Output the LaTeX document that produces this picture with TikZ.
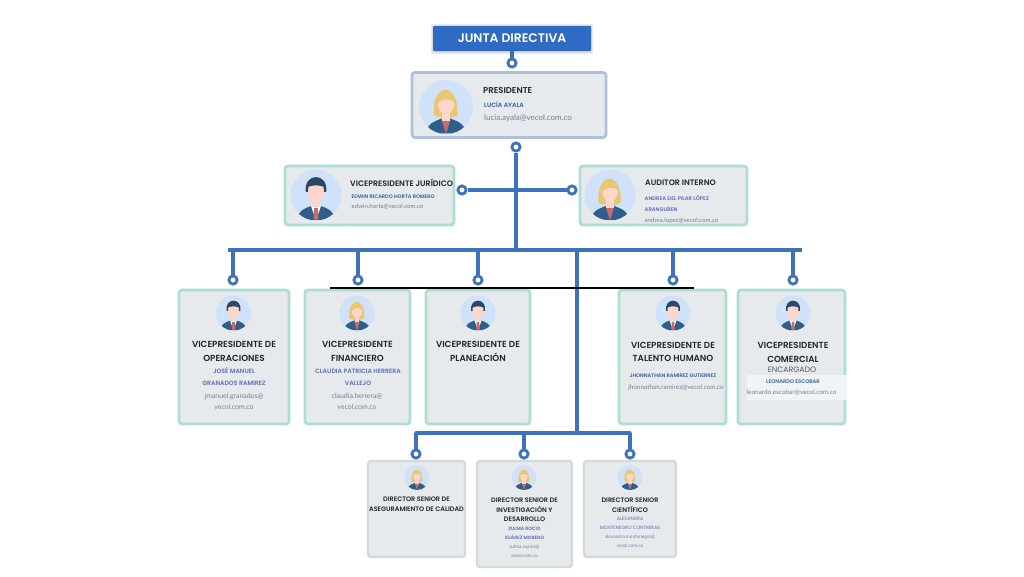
\documentclass[tikz,border=0pt]{standalone}
\usepackage{fontspec}
\setmainfont{Poppins}[BoldFont={Poppins SemiBold}]
\newfontfamily\namefont{Poppins}[BoldFont={Poppins SemiBold}]
\newfontfamily\mailfont{Lato}
\definecolor{blueline}{HTML}{3F72BC}
\definecolor{juntablue}{HTML}{2F6BC4}
\definecolor{cardfill}{HTML}{E6EAED}
\definecolor{tealedge}{HTML}{ADDDD3}
\definecolor{presedge}{HTML}{AEC0DE}
\definecolor{greyedge}{HTML}{D6D9DB}
\definecolor{namedark}{HTML}{34609C}
\definecolor{nameviolet}{HTML}{5F6DB8}
\definecolor{mailgrey}{HTML}{6F8296}
\definecolor{titleink}{HTML}{22252A}
\definecolor{avbg}{HTML}{CFE2F9}
\definecolor{avcoat}{HTML}{2F5F88}
\definecolor{avskin}{HTML}{FBD6CB}
\definecolor{avhairm}{HTML}{2B4766}
\definecolor{avhairf}{HTML}{EAC673}
\definecolor{avtie}{HTML}{C96A6E}
\newcommand{\avatarbody}[1]{%
  \fill[avbg] (0,0) circle (1);
  \begin{scope}
    \clip (0,0) circle (1);
    #1
  \end{scope}}
\newcommand{\manavatar}[3]{%
  \begin{scope}[shift={(#1,#2)},scale=#3]
  \avatarbody{%
    \fill[avcoat] (-0.75,0.98) .. controls (-0.72,0.62) and (-0.45,0.52) .. (-0.15,0.42) -- (0.15,0.42) .. controls (0.45,0.52) and (0.72,0.62) .. (0.75,0.98) -- cycle;
    \fill[white] (-0.2,0.42) -- (0.2,0.42) -- (0,1) -- cycle;
    \fill[avtie] (-0.07,0.5) -- (0.07,0.5) -- (0.1,0.9) -- (0,1) -- (-0.1,0.9) -- cycle;
    \fill[avskin] (-0.15,0.1) rectangle (0.15,0.48);
    \fill[avskin] (0,-0.15) ellipse (0.35 and 0.44);
    \fill[avhairm] (-0.4,-0.12) .. controls (-0.5,-0.9) and (0.5,-0.9) .. (0.4,-0.12) -- (0.31,-0.12) -- (0.3,-0.32) .. controls (0.1,-0.4) and (-0.1,-0.4) .. (-0.3,-0.32) -- (-0.31,-0.12) -- cycle;
  }
  \end{scope}}
\newcommand{\womanavatar}[3]{%
  \begin{scope}[shift={(#1,#2)},scale=#3]
  \avatarbody{%
    \fill[avhairf] (-0.45,0.3) .. controls (-0.55,-0.95) and (0.5,-0.95) .. (0.42,0.3) .. controls (0.3,0.42) and (-0.3,0.42) .. (-0.45,0.3) -- cycle;
    \fill[avcoat] (-0.75,0.98) .. controls (-0.72,0.62) and (-0.45,0.55) .. (-0.15,0.42) -- (0.15,0.42) .. controls (0.45,0.55) and (0.72,0.62) .. (0.75,0.98) -- cycle;
    \fill[avtie] (-0.17,0.45) -- (0.17,0.45) -- (0,1) -- cycle;
    \fill[avskin] (-0.14,0.1) rectangle (0.14,0.5);
    \fill[avskin] (0,-0.12) ellipse (0.3 and 0.38);
    \fill[avhairf] (-0.3,-0.12) .. controls (-0.25,-0.6) and (0.15,-0.65) .. (0.32,-0.2) .. controls (0.1,-0.3) and (-0.1,-0.35) .. (-0.3,-0.12) -- cycle;
  }
  \end{scope}}
\tikzset{
  x=1pt,y=-1pt,
  card/.style={draw,fill=cardfill,rounded corners=3pt,line width=2.8pt,inner sep=0pt},
  tealcard/.style={card,draw=tealedge},
  prescard/.style={card,draw=presedge},
  greycard/.style={card,draw=greyedge,line width=2.4pt},
  juntabox/.style={fill=juntablue,rounded corners=1pt,minimum width=158pt,minimum height=25pt,inner sep=0pt,text=white,font=\fontsize{12.4}{14}\selectfont\bfseries},
  ring/.style={circle,draw=blueline,fill=white,line width=2.8pt,minimum size=8.2pt,inner sep=0pt},
  link/.style={draw=blueline,line width=3.2pt},
  blackrule/.style={draw=black,line width=2.2pt},
  ttl/.style={inner sep=0pt,align=center,text=titleink,font=\fontsize{8.8}{13.4}\selectfont\bfseries},
  ttlleft/.style={ttl,anchor=west,font=\fontsize{7.9}{13}\selectfont\bfseries},
  sub/.style={inner sep=0pt,align=center,text=titleink!75,font=\fontsize{7.8}{12}\selectfont},
  dirttl/.style={ttl,font=\fontsize{6.5}{9.6}\selectfont\bfseries},
  nm/.style={inner sep=0pt,align=center,text=nameviolet,font=\namefont\fontsize{6.2}{12}\selectfont\bfseries},
  nmleft/.style={nm,anchor=west,text=namedark},
  nmsmall/.style={nm,font=\namefont\fontsize{4.7}{9}\selectfont\bfseries},
  mail/.style={inner sep=0pt,align=center,text=mailgrey,font=\mailfont\fontsize{6.9}{11}\selectfont},
  mailleft/.style={mail,anchor=west},
  mailsmall/.style={mail,font=\mailfont\fontsize{4.7}{9}\selectfont},
}
\begin{document}
\begin{tikzpicture}
\useasboundingbox (0,0) rectangle (1024,576);
\fill[white] (0,0) rectangle (1024,576);

% cards
\fill[black!8,rounded corners=2pt] (431,24) rectangle (593,54);
\fill[black!14,rounded corners=1pt] (432,25) rectangle (592,52.5);
\node[juntabox] (junta) at (512,38.5) {JUNTA DIRECTIVA};
\node[prescard,minimum width=194pt,minimum height=65pt] (pres) at (509,105) {};
\node[tealcard,minimum width=169pt,minimum height=59pt] (vpjur) at (369.5,195.5) {};
\node[tealcard,minimum width=167pt,minimum height=59pt] (audit) at (663.5,195.5) {};
\node[tealcard,minimum width=110pt,minimum height=134pt] (vpop) at (234,357) {};
\node[tealcard,minimum width=105pt,minimum height=134pt] (vpfin) at (357.5,357) {};
\node[tealcard,minimum width=104pt,minimum height=134pt] (vppla) at (478,357) {};
\node[tealcard,minimum width=107pt,minimum height=134pt] (vptal) at (672.5,357) {};
\node[tealcard,minimum width=107pt,minimum height=134pt] (vpcom) at (791.5,357) {};
\node[greycard,minimum width=97pt,minimum height=96pt] (dircal) at (416.5,509) {};
\node[greycard,minimum width=95pt,minimum height=106pt] (dirinv) at (524.5,514) {};
\node[greycard,minimum width=92pt,minimum height=96pt] (dircie) at (630,509) {};
\fill[white!45!cardfill] (747,375) rectangle (847,400);

% connector points
\coordinate (jTop) at (228,250);
\coordinate (jEnd) at (802,250);
\coordinate (jPres) at (516,250);
\coordinate (jDir) at (577,250);
\coordinate (jDirB) at (577,433);
\coordinate (jA) at (416,433);
\coordinate (jB) at (524,433);
\coordinate (jC) at (630,433);
\coordinate (d1) at (233,250);
\coordinate (d2) at (358,250);
\coordinate (d3) at (478,250);
\coordinate (d4) at (673,250);
\coordinate (d5) at (793,250);
\coordinate (ruleL) at (330,288);
\coordinate (ruleR) at (694,288);

% rings
\node[ring] (rJ) at (512,63) {};
\node[ring] (rP) at (516,147) {};
\node[ring] (rL) at (462,190) {};
\node[ring] (rR) at (572,190) {};
\node[ring] (r1) at (233,280) {};
\node[ring] (r2) at (358,280) {};
\node[ring] (r3) at (478,280) {};
\node[ring] (r4) at (673,280) {};
\node[ring] (r5) at (793,280) {};
\node[ring] (rA) at (416,454) {};
\node[ring] (rB) at (524,454) {};
\node[ring] (rC) at (630,454) {};

% connectors
\path[link] (junta.south) -- (rJ);
\path[link] (rP) -- (jPres);
\path[link] (rL) -- (rR);
\path[link] (jTop) -- (jEnd);
\foreach \a/\b in {d1/r1,d2/r2,d3/r3,d4/r4,d5/r5,jA/rA,jB/rB,jC/rC}{\path[link] (\a) -- (\b);}
\path[link] (jDir) -- (jDirB);
\path[link,line cap=round] (jA) -- (jC);
\path[blackrule] (ruleL) -- (ruleR);

% avatars
\womanavatar{446}{107}{27}
\manavatar{316}{195}{25.5}
\womanavatar{610}{195}{25.5}
\manavatar{233.5}{313}{17.5}
\womanavatar{357}{313}{17.5}
\manavatar{478}{313}{17.5}
\manavatar{673}{313}{17.5}
\manavatar{793}{313}{17.5}
\womanavatar{417}{477.5}{12.5}
\womanavatar{524}{477.5}{12.5}
\womanavatar{630}{477.5}{12.5}

% texts
\node[ttlleft,font=\fontsize{8.5}{13}\selectfont\bfseries] (tPres) at (483,91) {PRESIDENTE};
\node[nmleft] (nPres) at (484,105) {LUCÍA AYALA};
\node[mailleft,font=\mailfont\fontsize{8}{11}\selectfont] (mPres) at (484,118) {lucia.ayala@vecol.com.co};

\node[ttlleft] (tJur) at (350,183) {VICEPRESIDENTE JURÍDICO};
\node[nmleft,font=\namefont\fontsize{5.1}{9}\selectfont\bfseries] (nJur) at (351.5,196.5) {EDWIN RICARDO HORTA ROMERO};
\node[mailleft,font=\mailfont\fontsize{6.1}{9}\selectfont] (mJur) at (351.5,206.5) {edwin.horta@vecol.com.co};

\node[ttlleft] (tAud) at (645,183) {AUDITOR INTERNO};
\node[nm,anchor=west,align=left,font=\namefont\fontsize{5.3}{10.6}\selectfont\bfseries] (nAud) at (644.5,203.5) {ANDREA DEL PILAR LÓPEZ\\ARANGUREN};
\node[mailleft,font=\mailfont\fontsize{6.1}{9}\selectfont] (mAud) at (644.5,220.5) {andrea.lopez@vecol.com.co};

\node[ttl] (tOp) at (234,351.5) {VICEPRESIDENTE DE\\OPERACIONES};
\node[nm] (nOp) at (234,377) {JOSÉ MANUEL\\GRANADOS RAMIREZ};
\node[mail] (mOp) at (234,401.5) {jmanuel.granados@\\vecol.com.co};

\node[ttl] (tFin) at (357.5,351.5) {VICEPRESIDENTE\\FINANCIERO};
\node[nm] (nFin) at (358,377) {CLAUDIA PATRICIA HERRERA\\VALLEJO};
\node[mail] (mFin) at (357,401.5) {claudia.herrera@\\vecol.com.co};

\node[ttl] (tPla) at (478,351.5) {VICEPRESIDENTE DE\\PLANEACIÓN};

\node[ttl] (tTal) at (673,352) {VICEPRESIDENTE DE\\TALENTO HUMANO};
\node[nm,text=namedark,font=\namefont\fontsize{5.1}{9}\selectfont\bfseries] (nTal) at (673,375.5) {JHONNATHAN RAMIREZ GUTIERREZ};
\node[mail,font=\mailfont\fontsize{6.4}{9}\selectfont] (mTal) at (676,387.5) {jhonnathan.ramirez@vecol.com.co};

\node[ttl] (tCom) at (793,352.5) {VICEPRESIDENTE\\COMERCIAL};
\node[sub] (sCom) at (792,370) {ENCARGADO};
\node[nm,text=namedark,font=\namefont\fontsize{5.2}{9}\selectfont\bfseries] (nCom) at (793,382) {LEONARDO ESCOBAR};
\node[mail,font=\mailfont\fontsize{6.4}{9}\selectfont] (mCom) at (791.5,393) {leonardo.escobar@vecol.com.co};

\node[dirttl] (tCal) at (416.5,504.5) {DIRECTOR SENIOR DE\\ASEGURAMIENTO DE CALIDAD};
\node[dirttl] (tInv) at (524.5,510) {DIRECTOR SENIOR DE\\INVESTIGACIÓN Y\\DESARROLLO};
\node[nmsmall] (nInv) at (524.5,533.5) {ZULMA ROCIO\\SUÁREZ MORENO};
\node[mailsmall] (mInv) at (524.5,551.5) {zulma.suarez@\\vecol.com.co};
\node[dirttl] (tCie) at (630,505) {DIRECTOR SENIOR\\CIENTÍFICO};
\node[nmsmall,font=\namefont\fontsize{4.7}{9}\selectfont] (nCie) at (630,523.5) {ALEXANDRA\\MONTENEGRO CONTRERAS};
\node[mailsmall] (mCie) at (630,541.5) {alexandra.montenegro@\\vecol.com.co};
\end{tikzpicture}
\end{document}
